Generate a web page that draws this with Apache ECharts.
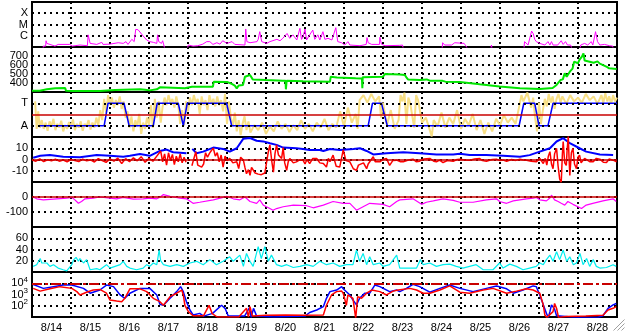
<!DOCTYPE html>
<html><head><meta charset="utf-8">
<script src="https://cdn.jsdelivr.net/npm/echarts@6/dist/echarts.min.js"></script>
<style>html,body{margin:0;padding:0;background:#fff}#c{width:628px;height:334px}</style>
</head><body><div id="c"></div>
<script>
// ---------- DATA (x = days since 8/14 00:00) ----------
const dayLabels = ['8/14','8/15','8/16','8/17','8/18','8/19','8/20','8/21','8/22','8/23','8/24','8/25','8/26','8/27','8/28'];
const xrayClassLabels = {'-6':'C','-5':'M','-4':'X'};
const electronTickExps = [2,3,4];
const sectorTickLabels = {'135':'A','315':'T'};

// GOES X-ray flux, W/m^2
const xrayFlux = [[0,5e-8],[0.28,5e-8],[0.29,1.2e-7],[0.35,1.2e-7],[0.36,3.6e-7],[0.38,2.1e-7],[0.42,1.5e-7],[0.59,1.2e-7],[0.67,1.7e-7],[0.72,1.2e-7],[0.97,1.7e-7],[1.03,1.2e-7],[1.23,1.5e-7],[1.42,1.3e-7],[1.44,1.2e-6],[1.49,2.1e-7],[1.66,1.7e-7],[1.79,2.6e-7],[1.82,1.7e-7],[2.0,1.8e-7],[2.21,2.4e-7],[2.26,1.8e-7],[2.34,2.1e-7],[2.41,3e-7],[2.46,1.7e-7],[2.56,4.8e-7],[2.62,3e-7],[2.66,3.7e-6],[2.72,3.4e-6],[2.77,2.3e-6],[2.85,9.5e-7],[2.94,4.2e-7],[3.02,3e-7],[3.11,2.6e-7],[3.2,2.1e-7],[3.22,1.2e-6],[3.25,3e-7],[3.32,2.1e-7],[3.35,3.6e-7],[3.38,1.5e-7],[3.41,5e-8],[3.97,5e-8],[4.01,1.5e-7],[4.13,1.2e-7],[4.25,1.3e-7],[4.38,1.8e-7],[4.48,3e-7],[4.56,3e-7],[4.64,1.7e-7],[4.74,2.4e-7],[4.82,1.8e-7],[4.89,3.6e-7],[5.0,2.1e-7],[5.13,3e-7],[5.2,1.7e-7],[5.46,1.5e-7],[5.48,4e-6],[5.51,3e-7],[5.59,2.4e-7],[5.77,3e-7],[5.8,4.8e-7],[5.84,2.3e-6],[5.89,3e-7],[6.02,2.1e-7],[6.1,3e-7],[6.28,4.8e-7],[6.36,3.6e-7],[6.43,5.9e-7],[6.54,1.6e-6],[6.57,1.9e-6],[6.61,5.9e-7],[6.69,1.2e-6],[6.79,4.2e-7],[6.87,4.6e-6],[6.91,4.8e-7],[6.95,7.8e-7],[7.0,4e-6],[7.04,4.2e-7],[7.12,1.2e-6],[7.2,3.2e-6],[7.25,4.8e-7],[7.33,1.2e-6],[7.38,4.2e-7],[7.46,2.3e-6],[7.51,4.8e-7],[7.59,5.9e-7],[7.69,4.2e-7],[7.79,5.2e-6],[7.84,3e-7],[7.94,2.4e-7],[8.02,1.5e-7],[8.1,3e-7],[8.15,1.5e-7],[8.41,1.3e-7],[8.57,1.7e-7],[8.59,6.8e-7],[8.62,2.4e-7],[8.71,1.7e-7],[8.91,1.7e-7],[8.92,7.3e-7],[8.96,1.8e-7],[9.05,1.3e-7],[9.43,1.4e-7],[9.5,1.5e-7],[9.53,5e-8],[10.51,5e-8],[10.53,2.4e-7],[10.58,1.5e-7],[10.76,1.5e-7],[10.84,2.4e-7],[10.88,1.7e-7],[11.08,2.1e-7],[11.12,1.3e-7],[11.2,5e-8],[11.76,5e-8],[11.78,1.5e-7],[11.81,5e-8],[12.61,5e-8],[12.63,3e-7],[12.68,3.6e-7],[12.72,1.5e-7],[12.81,2.6e-6],[12.85,1.6e-6],[12.89,4.8e-7],[12.93,3e-7],[13.02,2.1e-7],[13.15,1.5e-7],[13.23,3e-7],[13.28,1.5e-7],[13.32,3e-7],[13.36,1.5e-7],[13.4,2.1e-7],[13.48,1.5e-7],[13.57,3.6e-7],[13.62,1.7e-7],[13.68,3e-7],[13.73,1.5e-7],[13.81,1.5e-7],[13.86,5e-8],[14.04,5e-8],[14.07,1.5e-7],[14.17,2.1e-7],[14.25,1.5e-7],[14.34,3e-7],[14.38,1.5e-7],[14.45,2.3e-6],[14.5,3e-7],[14.56,1.5e-7],[14.68,1.7e-7],[14.81,1.3e-7],[14.89,1.2e-7],[14.91,5e-8],[15,5e-8]];

// Solar wind speed, km/s
const windSpeed = [[0,315],[0.2,315],[0.21,330],[0.38,330],[0.4,345],[0.6,342],[0.85,345],[0.87,315],[1.03,312],[1.4,310],[1.74,310],[1.79,322],[2.13,322],[2.15,330],[2.77,330],[2.9,325],[3.02,318],[3.2,330],[3.28,352],[3.3,341],[3.92,341],[4.1,359],[4.64,359],[4.66,415],[5.0,412],[5.1,395],[5.2,370],[5.25,340],[5.3,372],[5.41,378],[5.46,470],[5.59,489],[5.66,440],[6.0,433],[6.02,426],[6.43,426],[6.5,424],[6.51,330],[6.53,426],[6.95,420],[7.3,418],[7.64,415],[7.66,470],[7.82,460],[7.85,452],[8.3,452],[8.46,450],[8.47,341],[8.48,465],[9.0,470],[9.05,500],[9.43,495],[9.56,489],[9.6,463],[9.64,440],[9.94,433],[9.96,444],[10.12,440],[10.2,426],[10.53,424],[10.6,415],[10.97,410],[11.0,389],[11.48,385],[11.5,367],[11.99,362],[12.0,348],[12.51,342],[12.55,333],[13.02,333],[13.05,341],[13.35,345],[13.45,378],[13.55,433],[13.61,440],[13.66,507],[13.71,470],[13.75,480],[13.79,526],[13.86,560],[13.9,637],[14.0,620],[14.04,660],[14.1,692],[14.14,730],[14.17,650],[14.3,637],[14.4,625],[14.5,640],[14.56,615],[14.6,600],[14.74,580],[14.8,563],[14.99,555]];

// IMF longitude angle phi (deg) and sector polarity
const imfPhi = [[0.08,330],[0.12,110],[0.16,250],[0.2,120],[0.25,180],[0.3,110],[0.35,160],[0.4,95],[0.45,170],[0.5,130],[0.55,190],[0.6,100],[0.65,150],[0.7,120],[0.75,175],[0.8,90],[0.85,140],[0.9,110],[0.95,165],[1.0,125],[1.05,185],[1.1,100],[1.15,150],[1.2,120],[1.25,170],[1.3,95],[1.35,150],[1.4,130],[1.45,180],[1.5,105],[1.55,160],[1.6,120],[1.65,200],[1.7,140],[1.75,260],[1.8,180],[1.85,350],[1.9,240],[1.95,380],[2.0,300],[2.05,360],[2.1,280],[2.15,340],[2.2,300],[2.25,370],[2.3,270],[2.35,330],[2.4,200],[2.45,250],[2.5,120],[2.55,210],[2.6,90],[2.65,180],[2.7,130],[2.75,230],[2.8,70],[2.85,160],[2.9,110],[2.95,200],[3.0,140],[3.05,300],[3.1,120],[3.15,350],[3.2,200],[3.25,330],[3.3,160],[3.35,290],[3.4,360],[3.45,300],[3.5,380],[3.55,320],[3.6,350],[3.65,280],[3.7,370],[3.75,300],[3.8,150],[3.85,260],[3.9,140],[3.95,330],[4.0,250],[4.05,360],[4.1,300],[4.15,380],[4.2,320],[4.25,350],[4.3,230],[4.35,370],[4.4,300],[4.45,340],[4.5,260],[4.55,380],[4.6,310],[4.65,350],[4.7,290],[4.75,370],[4.8,300],[4.85,340],[4.9,250],[4.95,390],[5.0,150],[5.05,330],[5.1,200],[5.15,130],[5.2,240],[5.25,90],[5.3,180],[5.35,60],[5.4,150],[5.45,210],[5.5,100],[5.55,170],[5.6,80],[5.7,140],[5.8,100],[5.9,160],[6.0,70],[6.1,130],[6.2,90],[6.3,170],[6.4,110],[6.5,150],[6.6,85],[6.7,140],[6.8,100],[6.9,180],[7.0,110],[7.1,150],[7.2,90],[7.3,160],[7.4,120],[7.5,190],[7.6,100],[7.7,150],[7.8,120],[7.9,250],[8.0,130],[8.1,280],[8.2,160],[8.3,230],[8.35,110],[8.4,340],[8.5,380],[8.6,320],[8.7,390],[8.8,330],[8.9,370],[8.95,200],[9.0,320],[9.1,140],[9.2,260],[9.3,110],[9.4,180],[9.45,380],[9.5,330],[9.55,400],[9.6,150],[9.65,360],[9.7,310],[9.8,120],[9.85,380],[9.9,340],[10.0,160],[10.1,200],[10.2,100],[10.25,50],[10.3,180],[10.4,130],[10.5,240],[10.6,120],[10.7,200],[10.8,150],[10.9,260],[11.0,110],[11.1,190],[11.2,140],[11.3,230],[11.4,100],[11.5,180],[11.6,70],[11.7,160],[11.8,90],[11.9,190],[12.0,140],[12.1,220],[12.2,160],[12.3,200],[12.4,150],[12.5,300],[12.55,380],[12.6,330],[12.7,400],[12.8,280],[12.85,360],[12.9,200],[12.95,90],[13.0,320],[13.05,150],[13.1,260],[13.15,350],[13.2,290],[13.25,390],[13.3,320],[13.35,370],[13.4,270],[13.45,350],[13.5,390],[13.55,320],[13.6,370],[13.7,310],[13.8,380],[13.9,330],[14.0,360],[14.1,320],[14.2,390],[14.3,340],[14.4,370],[14.5,310],[14.6,380],[14.65,320],[14.7,395],[14.75,330],[14.8,370],[14.85,310],[14.9,380],[14.95,330],[15.0,360]];
const sectorPhi = [[0.2,135],[1.85,135],[1.95,315],[2.36,315],[2.49,135],[3.11,135],[3.21,315],[3.75,315],[3.88,135],[3.98,315],[4.99,315],[5.12,135],[8.62,135],[8.73,315],[8.96,315],[9.11,135],[12.49,135],[12.61,315],[12.89,315],[13.0,135],[13.23,135],[13.36,315],[15,315]];

// IMF Bt and Bz, nT
const imfBt = [[0.03,1.5],[0.21,3.3],[0.46,3.9],[0.8,2.4],[1.23,2.1],[1.66,3.9],[2.0,3.3],[2.34,2.4],[2.51,3.3],[2.77,4.8],[3.02,3.3],[3.28,7.6],[3.45,8.8],[3.62,6.4],[3.96,5.5],[4.03,'-'],[4.11,9.4],[4.22,5.5],[4.39,7.0],[4.65,10.6],[4.9,9.4],[5.07,7.0],[5.25,10],[5.42,18.5],[5.59,19.1],[5.76,16.7],[5.93,16.1],[6.1,14.5],[6.27,13],[6.44,10.6],[6.78,10],[6.95,9.4],[7.12,8.5],[7.38,8.5],[7.47,7.6],[7.64,9.4],[7.89,8.5],[8.24,9.4],[8.41,10],[8.58,7.6],[8.75,4.5],[9.09,5.5],[9.52,6.4],[9.94,5.5],[10.37,4.5],[10.8,4.5],[10.97,5.2],[11.22,3.9],[11.65,3.9],[12.08,3.3],[12.51,2.4],[12.76,3.9],[13.02,7],[13.28,10],[13.45,16],[13.62,19],[13.79,14.5],[14.04,10],[14.21,7],[14.56,4.5],[14.9,3.9]];
const imfBz = [[0.0,-0.5],[0.1,-1.5],[0.2,0.5],[0.3,-1.8],[0.4,-0.3],[0.5,-1.2],[0.6,0.2],[0.7,-1.5],[0.8,-0.5],[0.9,-2],[1.0,0],[1.1,-1],[1.2,-1.8],[1.3,0.3],[1.4,-1.2],[1.5,-0.4],[1.6,-2.2],[1.7,0.8],[1.8,-1],[1.9,-2.5],[2.0,0.5],[2.1,-1.5],[2.2,1.2],[2.3,-3.5],[2.4,0.8],[2.5,-2],[2.6,1.5],[2.7,-1.2],[2.8,2.5],[2.9,-2.5],[3.0,1],[3.1,-1.5],[3.2,3],[3.3,7.5],[3.35,-2],[3.4,5],[3.45,-5],[3.5,6],[3.55,-1],[3.6,4.5],[3.65,-4.5],[3.7,3],[3.75,-2],[3.8,5],[3.85,-3],[3.9,2],[3.95,-2.5],[4.03,'-'],[4.1,-5.5],[4.15,-6.5],[4.2,7],[4.25,-5],[4.3,-6],[4.35,-6.8],[4.4,-4],[4.45,6],[4.5,2],[4.55,5.5],[4.6,8],[4.65,10],[4.7,3],[4.75,6],[4.8,-2],[4.85,4],[4.9,-6.7],[4.95,3],[5.0,-1],[5.07,1],[5.15,-3],[5.25,-2],[5.3,-8],[5.35,2],[5.42,-0.5],[5.46,-7],[5.5,-12.7],[5.55,-9],[5.59,-14],[5.63,-7],[5.67,-6.7],[5.72,-12],[5.76,-11.2],[5.8,-13],[5.84,-12.7],[5.88,-13.5],[5.93,-13.6],[5.97,-12],[6.01,-12.7],[6.06,7],[6.1,13],[6.15,-2],[6.19,-11.2],[6.23,5],[6.27,13],[6.32,4],[6.36,3.9],[6.4,1],[6.44,10.6],[6.48,-3],[6.53,-9.7],[6.57,-2],[6.61,0.9],[6.7,-3],[6.78,-2.1],[6.85,-0.5],[6.95,-0.6],[7.0,-4],[7.05,0],[7.12,-3.6],[7.2,1],[7.3,0.9],[7.38,-3],[7.47,-3.6],[7.55,-6.7],[7.6,1],[7.64,-2],[7.72,3.9],[7.8,-6],[7.89,-6.7],[7.98,8.5],[8.05,-1],[8.15,-2.1],[8.24,-8.2],[8.32,-9.7],[8.37,-5],[8.41,-5.2],[8.5,-3],[8.58,-8.2],[8.62,-4],[8.66,-3.6],[8.75,2.4],[8.8,-2],[8.92,-2.1],[9.0,0],[9.09,0.9],[9.17,-5.2],[9.25,-1],[9.35,-0.6],[9.45,-2],[9.52,-2.1],[9.65,-0.5],[9.77,0.3],[9.85,-2],[9.94,-1.5],[10.05,0.5],[10.2,0.9],[10.3,-1.5],[10.37,-2.1],[10.45,-0.5],[10.54,-2.7],[10.65,-1],[10.8,-1.5],[10.9,0],[10.97,0.3],[11.1,-0.5],[11.22,-0.6],[11.35,0.5],[11.48,0.9],[11.55,-1],[11.65,-1.5],[11.8,0],[11.91,0.3],[12.0,-1],[12.08,-0.5],[12.17,-1.5],[12.3,0],[12.4,-0.8],[12.51,0.3],[12.6,-0.5],[12.68,-0.6],[12.8,-1.5],[12.93,-2.1],[13.02,1],[13.11,-3.6],[13.16,1],[13.2,-5],[13.24,3],[13.28,7],[13.32,-4],[13.36,-8.2],[13.4,5],[13.45,10],[13.49,-6],[13.53,-17.3],[13.57,-20.3],[13.6,5],[13.62,16],[13.66,-3],[13.7,-5.2],[13.72,8],[13.75,20.6],[13.77,2],[13.79,-14.2],[13.83,6],[13.87,10],[13.91,-4],[13.96,-8.2],[14.0,2],[14.04,3.9],[14.08,-3],[14.13,-3.6],[14.17,1],[14.21,2.4],[14.3,-2],[14.39,-2.1],[14.47,1],[14.56,0.3],[14.65,-2.5],[14.73,-2.7],[14.8,0.5],[14.9,-0.6],[14.99,-2.1]];

// Dst index, nT
const dstIndex = [[0.03,0],[0.12,-12],[0.29,-19],[0.55,-14],[0.89,-7],[1.02,-2],[1.10,-19],[1.19,-42],[1.27,-30],[1.36,-12],[1.57,-7],[1.74,0],[2.0,-7],[2.17,-12],[2.34,-2],[2.6,-14],[2.85,-12],[3.02,-7],[3.2,-12],[3.28,-2],[3.37,16],[3.54,5],[3.79,-7],[3.96,-12],[4.13,-42],[4.3,-35],[4.65,-19],[4.9,-2],[4.99,5],[5.16,-12],[5.33,-19],[5.46,0],[5.59,-30],[5.76,-42],[5.84,-19],[5.93,-54],[6.01,-65],[6.10,-77],[6.18,-88],[6.27,-77],[6.44,-65],[6.70,-54],[7.04,-58],[7.21,-72],[7.47,-54],[7.72,-30],[7.98,-42],[8.15,-42],[8.32,-88],[8.49,-65],[8.66,-42],[9.0,-49],[9.17,-65],[9.35,-30],[9.43,-19],[9.77,-12],[9.99,-49],[10.11,-35],[10.29,-26],[10.54,-12],[10.8,-23],[10.97,-35],[11.31,-35],[11.65,-19],[11.91,-12],[11.99,-30],[12.17,-42],[12.34,-26],[12.68,-12],[12.85,-7],[12.93,-2],[13.02,-19],[13.19,-26],[13.28,-7],[13.32,12],[13.4,-19],[13.49,-30],[13.57,-42],[13.66,-54],[13.74,-30],[13.87,-49],[14.09,-77],[14.21,-54],[14.38,-42],[14.64,-26],[14.9,-12],[14.98,-30]];

// geomagnetic activity index
const apIndex = [[0.03,10],[0.12,13],[0.21,24],[0.25,16],[0.29,13],[0.38,16],[0.46,10],[0.55,13],[0.67,7],[0.8,4],[0.89,2],[1.02,13],[1.06,21],[1.13,26],[1.19,19],[1.23,24],[1.32,16],[1.4,22],[1.49,4],[1.66,6],[1.74,4],[1.91,13],[2.0,7],[2.13,10],[2.26,13],[2.34,19],[2.43,10],[2.51,7],[2.68,4],[2.85,7],[2.94,13],[3.02,10],[3.11,16],[3.2,13],[3.26,39],[3.3,20],[3.37,13],[3.54,10],[3.71,13],[3.88,10],[4.05,16],[4.22,19],[4.39,13],[4.56,22],[4.73,13],[4.9,19],[5.07,27],[5.16,19],[5.33,30],[5.42,10],[5.5,33],[5.59,19],[5.67,10],[5.8,45],[5.88,24],[5.97,45],[6.06,19],[6.14,30],[6.27,13],[6.4,10],[6.53,13],[6.7,8],[6.87,10],[7.04,13],[7.21,10],[7.38,19],[7.55,13],[7.72,16],[7.89,10],[8.06,13],[8.23,13],[8.32,39],[8.4,19],[8.49,33],[8.58,13],[8.66,27],[8.75,13],[8.92,16],[9.0,10],[9.17,13],[9.35,30],[9.43,7],[9.6,7],[9.86,7],[9.96,22],[10.03,13],[10.2,16],[10.37,10],[10.54,13],[10.71,14],[10.88,10],[11.05,7],[11.22,10],[11.39,13],[11.57,4],[11.82,4],[11.99,16],[12.08,7],[12.25,14],[12.42,10],[12.59,4],[12.76,7],[12.93,10],[13.02,16],[13.11,13],[13.19,22],[13.28,30],[13.36,19],[13.45,36],[13.53,22],[13.62,39],[13.71,19],[13.79,27],[13.88,13],[13.96,16],[14.05,33],[14.13,13],[14.22,24],[14.3,10],[14.39,22],[14.47,10],[14.56,7],[14.73,8],[14.9,13],[14.98,10]];

// Electron flux (two channels)
const electronBlue = [[0.0,8500],[0.29,3500],[0.55,5000],[0.8,6900],[1.02,6900],[1.32,3500],[1.49,1300],[1.74,2500],[1.91,6900],[2.09,5000],[2.26,910],[2.38,460],[2.51,1300],[2.77,3500],[3.02,3500],[3.2,910],[3.28,135],[3.37,110],[3.54,460],[3.71,1800],[3.81,5000],[3.88,1800],[3.96,230],[4.05,42],[4.13,15],[4.3,21],[4.4,12],[4.63,21],[4.86,110],[4.95,59],[5.03,13],[5.2,12],[5.45,12],[5.58,70],[5.62,9],[5.68,59],[5.76,12],[6.2,10],[6.6,11],[7.0,12],[7.12,25],[7.3,42],[7.47,83],[7.55,460],[7.64,1800],[7.81,2500],[7.94,5000],[7.98,3200],[8.15,910],[8.23,320],[8.32,120],[8.4,460],[8.53,1300],[8.66,1300],[8.79,6900],[8.92,5000],[9.17,1800],[9.35,2500],[9.43,1800],[9.6,3500],[9.77,7900],[9.94,5000],[10.2,1600],[10.46,3500],[10.71,6900],[10.97,3500],[11.31,1800],[11.65,3500],[11.91,5800],[12.17,3200],[12.34,1300],[12.59,2500],[12.85,5800],[12.93,5000],[13.02,910],[13.11,120],[13.19,21],[13.24,9],[13.28,30],[13.32,120],[13.36,160],[13.4,50],[13.45,13],[13.5,9],[14.0,9],[14.5,9],[14.64,13],[14.77,59],[14.9,120],[14.98,160]];
const electronRed = [[0.03,3500],[0.21,2000],[0.46,3200],[0.72,5000],[1.02,3500],[1.15,1800],[1.23,910],[1.4,1600],[1.57,2500],[1.74,2800],[1.91,1300],[2.0,320],[2.17,260],[2.3,230],[2.38,460],[2.51,3200],[2.77,3200],[2.94,1800],[3.11,460],[3.28,230],[3.37,110],[3.54,650],[3.71,1300],[3.84,2500],[3.88,910],[3.92,110],[4.01,30],[4.13,13],[4.4,13],[4.54,110],[4.62,20],[4.75,10],[5.0,10],[5.3,10],[5.5,59],[5.55,10],[5.59,83],[5.65,12],[6.0,14],[6.5,15],[7.0,14],[7.47,15],[7.55,110],[7.68,910],[7.81,1800],[7.94,2000],[7.98,1300],[8.06,110],[8.1,910],[8.23,460],[8.3,7.6],[8.35,650],[8.45,460],[8.58,1300],[8.71,2500],[8.92,1800],[9.09,910],[9.26,2000],[9.39,2500],[9.69,3500],[9.86,2500],[10.03,1300],[10.2,1300],[10.46,2500],[10.71,5800],[10.97,1600],[11.22,1300],[11.57,2500],[11.82,3500],[12.17,1300],[12.42,2000],[12.68,3200],[12.85,2500],[13.02,1300],[13.11,120],[13.15,15],[13.2,9],[13.36,30],[13.4,160],[13.45,60],[13.5,9],[13.7,11],[14.2,12],[14.64,14],[14.77,42],[14.9,59],[14.98,83]];
const electronAlertLevel = 1e4;

// ---------- CHART ----------
const FONT = '"Liberation Sans", Arial, sans-serif';
const panelTop = [2, 47, 92, 137, 182, 227, 272];
const panelH = 45;
const hDot = {color: '#000', width: 2, type: [2, 4]};
const vDot = {color: '#000', width: 2, type: [2, 3]};
const darkRed = '#c80000';
const labelBase = {color: '#000', fontSize: 11, fontFamily: FONT, margin: 4};

const grid = panelTop.map(t => ({left: 32, right: 11, top: t, height: panelH, show: true, borderColor: '#000', borderWidth: 2, backgroundColor: 'transparent'}));

const xAxis = panelTop.map((t, i) => ({
  type: 'value', gridIndex: i, min: 0, max: 15, interval: 1, position: 'top',
  axisLine: {show: false}, axisTick: {show: false}, axisLabel: {show: false},
  splitLine: {show: true, lineStyle: vDot}
}));
xAxis.push({
  type: 'category', gridIndex: 6, position: 'bottom', data: dayLabels, boundaryGap: true,
  axisLine: {show: false}, axisTick: {show: false}, splitLine: {show: false},
  axisLabel: {color: '#000', fontSize: 11, fontFamily: FONT, margin: 5, interval: 0}
});

function yBase(i, extra) {
  return Object.assign({
    gridIndex: i, axisLine: {show: false}, axisTick: {show: false},
    splitLine: {show: true, lineStyle: hDot}
  }, extra);
}
const yAxis = [
  yBase(0, {type: 'log', logBase: 10, min: 1e-7, max: 1e-3,
    axisLabel: Object.assign({}, labelBase, {formatter: v => xrayClassLabels[String(Math.round(Math.log10(v)))] || ''})}),
  yBase(1, {type: 'value', min: 300, max: 800, interval: 100,
    axisLabel: Object.assign({}, labelBase, {formatter: v => (v > 300 && v < 800) ? String(v) : ''})}),
  yBase(2, {type: 'value', min: 45, max: 405, interval: 45, splitLine: {show: false},
    axisLabel: Object.assign({}, labelBase, {formatter: v => sectorTickLabels[String(v)] || ''})}),
  yBase(3, {type: 'value', min: -20, max: 20, interval: 10,
    axisLabel: Object.assign({}, labelBase, {formatter: v => (Math.abs(v) < 20) ? String(v) : ''})}),
  yBase(4, {type: 'value', min: -200, max: 100, interval: 100,
    axisLabel: Object.assign({}, labelBase, {formatter: v => (v === 0 || v === -100) ? String(v) : ''})}),
  yBase(5, {type: 'value', min: 0, max: 80, interval: 20,
    axisLabel: Object.assign({}, labelBase, {formatter: v => (v > 0 && v < 80) ? String(v) : ''})}),
  yBase(6, {type: 'log', logBase: 10, min: 10, max: 1e5,
    axisLabel: Object.assign({}, labelBase, {
      formatter: v => { const e = Math.round(Math.log10(v)); return electronTickExps.indexOf(e) >= 0 ? '10{s|' + e + '}' : ''; },
      rich: {s: {fontSize: 8, fontFamily: FONT, color: '#000', padding: [0, 0, 7, 0]}}
    })})
];

function line(i, data, color, width, extra) {
  return Object.assign({
    type: 'line', xAxisIndex: i, yAxisIndex: i, data: data, showSymbol: false, symbol: 'none',
    silent: true, animation: false, clip: true,
    lineStyle: {color: color, width: width}
  }, extra || {});
}
function hLines(items) {
  return {symbol: 'none', silent: true, animation: false, label: {show: false},
    data: items.map(it => ({yAxis: it[0], lineStyle: it[1]}))};
}

const series = [
  line(0, xrayFlux, '#ff00ff', 1),
  line(1, windSpeed, '#00e600', 2),
  line(2, imfPhi, '#f7de84', 2),
  line(2, sectorPhi, '#0000ff', 1.5, {markLine: hLines([
    [135, hDot], [315, hDot], [225, {color: darkRed, width: 1.5, type: 'solid'}]])}),
  line(3, imfBt, '#0000ff', 2),
  line(3, imfBz, '#ff0000', 1.5, {markLine: hLines([[0, {color: darkRed, width: 1.5, type: 'solid'}]])}),
  line(4, dstIndex, '#ff00ff', 1.2, {markLine: hLines([[0, {color: darkRed, width: 1.5, type: 'solid'}]])}),
  line(5, apIndex, '#00eeee', 1.2),
  line(6, electronBlue, '#0000ff', 1.5),
  line(6, electronRed, '#ff0000', 1.5, {markLine: hLines([[electronAlertLevel, {color: darkRed, width: 2, type: [10, 3, 3, 3]}]])})
];

const chart = echarts.init(document.getElementById('c'), null, {renderer: 'canvas'});
chart.setOption({
  animation: false,
  backgroundColor: '#fff',
  grid: grid, xAxis: xAxis, yAxis: yAxis, series: series,
  graphic: [{type: 'group', right: 1, bottom: 1, silent: true, children: [
    {type: 'line', shape: {x1: 11, y1: 0, x2: 0, y2: 11}, style: {stroke: '#a0a0a0', lineWidth: 1}},
    {type: 'line', shape: {x1: 11, y1: 4, x2: 4, y2: 11}, style: {stroke: '#a0a0a0', lineWidth: 1}},
    {type: 'line', shape: {x1: 11, y1: 8, x2: 8, y2: 11}, style: {stroke: '#a0a0a0', lineWidth: 1}}
  ]}]
});
</script></body></html>
